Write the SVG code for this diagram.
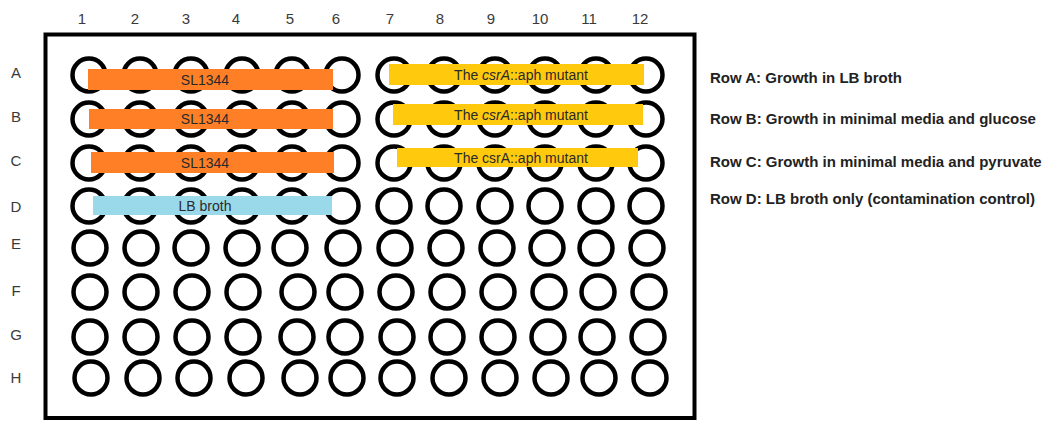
<svg xmlns="http://www.w3.org/2000/svg" width="1050" height="421" viewBox="0 0 1050 421">
<style>
.lbl{font-family:"Liberation Sans",Arial,sans-serif;font-size:15px;fill:#3a3a3a;text-anchor:middle}
.well{fill:none;stroke:#000;stroke-width:4.5}
.bt{font-family:"Liberation Sans",Arial,sans-serif;font-size:14px;fill:#2a2a2a;text-anchor:middle}
.leg{font-family:"Liberation Sans",Arial,sans-serif;font-size:15px;font-weight:bold;fill:#222}
.or{fill:#FF7F27}.ye{fill:#FFC90E}.bl{fill:#99D9EA}
</style>
<rect width="1050" height="421" fill="#fff"/>
<g id="plate"><rect x="45.5" y="34.5" width="649" height="383.5" fill="#fff" stroke="#000" stroke-width="4"/></g>
<g id="col-labels">
<text class="lbl" x="82" y="24">1</text><text class="lbl" x="135" y="24">2</text><text class="lbl" x="186" y="24">3</text><text class="lbl" x="236" y="24">4</text><text class="lbl" x="290" y="24">5</text><text class="lbl" x="336" y="24">6</text><text class="lbl" x="390" y="24">7</text><text class="lbl" x="440" y="24">8</text><text class="lbl" x="491" y="24">9</text><text class="lbl" x="540" y="24">10</text><text class="lbl" x="589" y="24">11</text><text class="lbl" x="640" y="24">12</text>
</g>
<g id="row-labels">
<text class="lbl" x="16" y="78">A</text><text class="lbl" x="16" y="122">B</text><text class="lbl" x="16" y="166">C</text><text class="lbl" x="16" y="212">D</text><text class="lbl" x="16" y="249">E</text><text class="lbl" x="16" y="296">F</text><text class="lbl" x="16" y="340">G</text><text class="lbl" x="16" y="383">H</text>
</g>
<g id="wells">
<g id="row-A"><circle class="well" cx="89" cy="75" r="16.5"/><circle class="well" cx="140" cy="75" r="16.5"/><circle class="well" cx="191" cy="75" r="16.5"/><circle class="well" cx="242" cy="75" r="16.5"/><circle class="well" cx="292" cy="75" r="16.5"/><circle class="well" cx="342" cy="75" r="16.5"/><circle class="well" cx="394" cy="75" r="16.5"/><circle class="well" cx="444" cy="75" r="16.5"/><circle class="well" cx="495" cy="75" r="16.5"/><circle class="well" cx="545" cy="75" r="16.5"/><circle class="well" cx="596" cy="75" r="16.5"/><circle class="well" cx="646" cy="75" r="16.5"/></g>
<g id="row-B"><circle class="well" cx="89" cy="119" r="16.5"/><circle class="well" cx="140" cy="119" r="16.5"/><circle class="well" cx="191" cy="119" r="16.5"/><circle class="well" cx="242" cy="119" r="16.5"/><circle class="well" cx="292" cy="119" r="16.5"/><circle class="well" cx="342" cy="119" r="16.5"/><circle class="well" cx="394" cy="119" r="16.5"/><circle class="well" cx="444" cy="119" r="16.5"/><circle class="well" cx="495" cy="119" r="16.5"/><circle class="well" cx="545" cy="119" r="16.5"/><circle class="well" cx="596" cy="119" r="16.5"/><circle class="well" cx="646" cy="119" r="16.5"/></g>
<g id="row-C"><circle class="well" cx="89" cy="163" r="16.5"/><circle class="well" cx="140" cy="163" r="16.5"/><circle class="well" cx="191" cy="163" r="16.5"/><circle class="well" cx="242" cy="163" r="16.5"/><circle class="well" cx="292" cy="163" r="16.5"/><circle class="well" cx="342" cy="163" r="16.5"/><circle class="well" cx="394" cy="163" r="16.5"/><circle class="well" cx="444" cy="163" r="16.5"/><circle class="well" cx="495" cy="163" r="16.5"/><circle class="well" cx="545" cy="163" r="16.5"/><circle class="well" cx="596" cy="163" r="16.5"/><circle class="well" cx="646" cy="163" r="16.5"/></g>
<g id="row-D"><circle class="well" cx="89" cy="206" r="16.5"/><circle class="well" cx="140" cy="206" r="16.5"/><circle class="well" cx="191" cy="206" r="16.5"/><circle class="well" cx="242" cy="206" r="16.5"/><circle class="well" cx="292" cy="206" r="16.5"/><circle class="well" cx="342" cy="206" r="16.5"/><circle class="well" cx="394" cy="206" r="16.5"/><circle class="well" cx="444" cy="206" r="16.5"/><circle class="well" cx="495" cy="206" r="16.5"/><circle class="well" cx="545" cy="206" r="16.5"/><circle class="well" cx="596" cy="206" r="16.5"/><circle class="well" cx="646" cy="206" r="16.5"/></g>
<g id="row-E"><circle class="well" cx="90" cy="248" r="16.5"/><circle class="well" cx="141" cy="248" r="16.5"/><circle class="well" cx="191" cy="248" r="16.5"/><circle class="well" cx="242" cy="248" r="16.5"/><circle class="well" cx="290" cy="248" r="16.5"/><circle class="well" cx="343" cy="248" r="16.5"/><circle class="well" cx="395" cy="248" r="16.5"/><circle class="well" cx="446" cy="248" r="16.5"/><circle class="well" cx="497" cy="248" r="16.5"/><circle class="well" cx="547" cy="248" r="16.5"/><circle class="well" cx="596" cy="248" r="16.5"/><circle class="well" cx="647" cy="248" r="16.5"/></g>
<g id="row-F"><circle class="well" cx="90" cy="292" r="16.5"/><circle class="well" cx="141" cy="292" r="16.5"/><circle class="well" cx="192" cy="292" r="16.5"/><circle class="well" cx="243" cy="292" r="16.5"/><circle class="well" cx="298" cy="292" r="16.5"/><circle class="well" cx="345" cy="292" r="16.5"/><circle class="well" cx="396" cy="292" r="16.5"/><circle class="well" cx="447" cy="292" r="16.5"/><circle class="well" cx="498" cy="292" r="16.5"/><circle class="well" cx="549" cy="292" r="16.5"/><circle class="well" cx="598" cy="292" r="16.5"/><circle class="well" cx="649" cy="292" r="16.5"/></g>
<g id="row-G"><circle class="well" cx="90" cy="337" r="16.5"/><circle class="well" cx="141" cy="337" r="16.5"/><circle class="well" cx="192" cy="337" r="16.5"/><circle class="well" cx="243" cy="337" r="16.5"/><circle class="well" cx="297" cy="337" r="16.5"/><circle class="well" cx="345" cy="337" r="16.5"/><circle class="well" cx="397" cy="337" r="16.5"/><circle class="well" cx="447" cy="337" r="16.5"/><circle class="well" cx="498" cy="337" r="16.5"/><circle class="well" cx="548" cy="337" r="16.5"/><circle class="well" cx="597" cy="337" r="16.5"/><circle class="well" cx="648" cy="337" r="16.5"/></g>
<g id="row-H"><circle class="well" cx="91" cy="378" r="16.5"/><circle class="well" cx="143" cy="378" r="16.5"/><circle class="well" cx="194" cy="378" r="16.5"/><circle class="well" cx="246" cy="378" r="16.5"/><circle class="well" cx="300" cy="378" r="16.5"/><circle class="well" cx="347" cy="378" r="16.5"/><circle class="well" cx="397" cy="378" r="16.5"/><circle class="well" cx="449" cy="378" r="16.5"/><circle class="well" cx="500" cy="378" r="16.5"/><circle class="well" cx="551" cy="378" r="16.5"/><circle class="well" cx="599" cy="378" r="16.5"/><circle class="well" cx="650" cy="378" r="16.5"/></g>
</g>
<g id="bar-A-left"><rect class="or" x="88" y="69" width="245" height="21"/><text class="bt" x="205" y="84.5">SL1344</text></g>
<g id="bar-B-left"><rect class="or" x="89" y="109" width="244" height="20"/><text class="bt" x="205" y="124">SL1344</text></g>
<g id="bar-C-left"><rect class="or" x="91" y="152" width="243" height="21"/><text class="bt" x="205" y="167.5">SL1344</text></g>
<g id="bar-D-left"><rect class="bl" x="93" y="196" width="239" height="19"/><text class="bt" x="205" y="210.5">LB broth</text></g>
<g id="bar-A-right"><rect class="ye" x="389" y="64" width="255" height="21"/><text class="bt" x="521" y="79.5">The <tspan font-style="italic">csrA</tspan>::aph mutant</text></g>
<g id="bar-B-right"><rect class="ye" x="393" y="104" width="250" height="21"/><text class="bt" x="521" y="119.5">The <tspan font-style="italic">csrA</tspan>::aph mutant</text></g>
<g id="bar-C-right"><rect class="ye" x="397" y="148" width="241" height="19"/><text class="bt" x="521" y="162.5">The csrA::aph mutant</text></g>
<g id="legend">
<text class="leg" x="710" y="83">Row A: Growth in LB broth</text>
<text class="leg" x="710" y="124">Row B: Growth in minimal media and glucose</text>
<text class="leg" x="710" y="167">Row C: Growth in minimal media and pyruvate</text>
<text class="leg" x="710" y="204">Row D: LB broth only (contamination control)</text>
</g>
</svg>
